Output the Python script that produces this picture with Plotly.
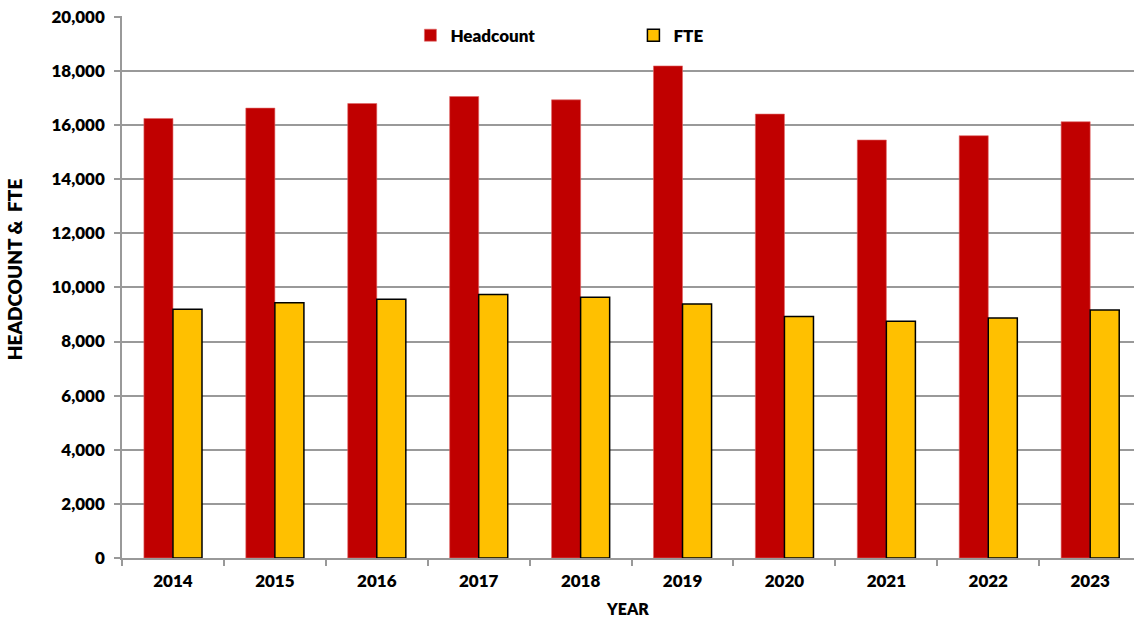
import plotly.graph_objects as go

years = ["2014", "2015", "2016", "2017", "2018", "2019", "2020", "2021", "2022", "2023"]
headcount = [16243, 16626, 16796, 17054, 16932, 18184, 16405, 15447, 15606, 16122]
fte = [9190, 9436, 9558, 9742, 9632, 9386, 8921, 8748, 8870, 9165]
y_ticks = [0, 2000, 4000, 6000, 8000, 10000, 12000, 14000, 16000, 18000, 20000]

FONT = "Lato"
W = 800
NB = "\u00a0"

fig = go.Figure()
fig.add_trace(go.Bar(
    x=years, y=headcount, name="Headcount",
    marker=dict(color="#C00000", line=dict(color="#E06666", width=0.6)),
))
fig.add_trace(go.Bar(
    x=years, y=fte, name="FTE",
    marker=dict(color="#FFC000", line=dict(color="#000000", width=1.5)),
))

fig.update_layout(
    width=1134, height=618,
    margin=dict(l=122, r=0, t=16, b=60),
    paper_bgcolor="white", plot_bgcolor="white",
    barmode="group", bargap=0.43, bargroupgap=0,
    font=dict(family=FONT, size=15, color="black", weight=W),
    legend=dict(
        orientation="h", x=0.285, y=0.997, xanchor="left", yanchor="top",
        entrywidth=178, entrywidthmode="pixels", itemwidth=30,
        font=dict(family=FONT, size=17, color="black", weight=W),
        bgcolor="rgba(0,0,0,0)",
    ),
    showlegend=True,
)
fig.update_xaxes(
    type="category",
    range=[-0.5, 9.43],
    automargin=False,
    showline=True, linecolor="#999999", linewidth=1.5,
    ticks="outside", tickson="boundaries", ticklen=6, tickcolor="#999999", tickwidth=1.5,
    ticklabelstandoff=7,
    tickfont=dict(family=FONT, size=17, color="black", weight=W),
    title=dict(text="YEAR", font=dict(family=FONT, size=16, color="black", weight=W), standoff=14),
    showgrid=False,
)
fig.update_yaxes(
    range=[0, 20030],
    automargin=False,
    tickvals=y_ticks, tickformat=",d",
    showline=True, linecolor="#999999", linewidth=1.5,
    ticks="outside", ticklen=6, tickcolor="#999999", tickwidth=1.5,
    ticklabelstandoff=6, ticklabeloverflow="allow",
    showgrid=True, gridcolor="#999999", gridwidth=1.5,
    tickfont=dict(family=FONT, size=17, color="black", weight=W),
    title=dict(text="\u200b" + NB * 8 + "HEADCOUNT &" + NB * 2 + "FTE",
               font=dict(family=FONT, size=19, color="black", weight=W), standoff=24),
    zeroline=False,
)

fig.write_html("out.html", config={"displayModeBar": False},
               post_script="document.body.style.margin='0';")
